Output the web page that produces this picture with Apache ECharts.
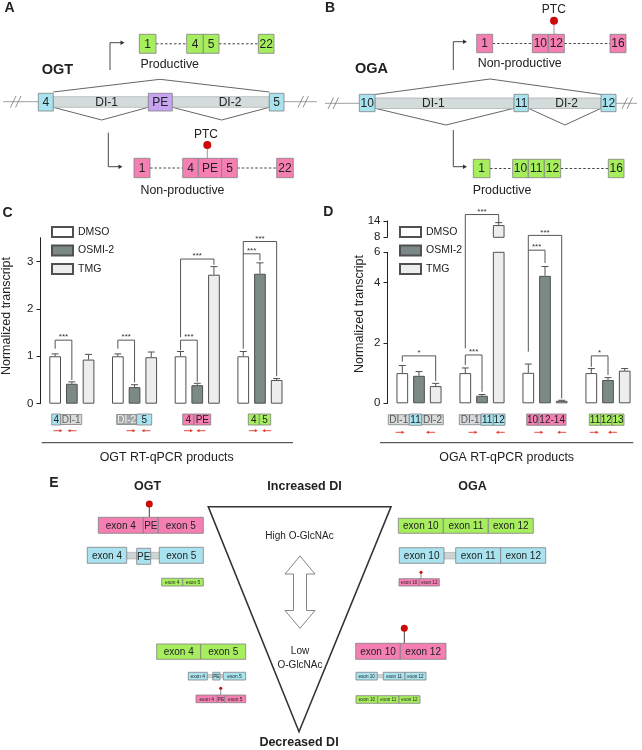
<!DOCTYPE html>
<html><head><meta charset="utf-8">
<script src="https://cdn.jsdelivr.net/npm/echarts@6/dist/echarts.min.js"></script>
<style>html,body{margin:0;padding:0;background:#fff}#c{width:642px;height:750px}</style>
</head><body><div id="c"></div>
<script>
const FONT = 'Liberation Sans, Arial, Helvetica, sans-serif';

// ---------- Panel C data (OGT RT-qPCR) ----------
const C_categories = ['4 | DI-1', 'DI-2 | 5', '4 | PE', '4 | 5'];
const C_DMSO     = [1.00, 1.00, 1.00, 1.00];
const C_DMSO_err = [0.05, 0.05, 0.10, 0.10];
const C_OSMI     = [0.42, 0.35, 0.39, 2.74];
const C_OSMI_err = [0.04, 0.05, 0.04, 0.23];
const C_TMG      = [0.93, 0.98, 2.72, 0.50];
const C_TMG_err  = [0.11, 0.11, 0.17, 0.03];
const C_yTicks = [0, 1, 2, 3];
const C_yTickLabels = ['0', '1', '2', '3'];
// significance brackets: [category, fromBar, toBar, top, leftEnd, rightEnd]
const C_sig = [[0,0,1,1.34,1.16,0.50],[1,0,1,1.34,1.16,0.45],[2,0,1,1.34,1.13,0.46],[2,0,2,3.05,1.40,2.93],[3,0,1,3.16,1.16,3.02],[3,0,2,3.42,3.16,0.58]];
const C_sigLabels = ['***','***','***','***','***','***'];

// ---------- Panel D data (OGA RT-qPCR) ----------
const D_categories = ['DI-1 | 11 | DI-2', 'DI-1 | 11 | 12', '10 | 12-14', '11 | 12 | 13'];
const D_DMSO     = [1.00, 1.00, 1.01, 1.00];
const D_DMSO_err = [0.25, 0.17, 0.29, 0.15];
const D_OSMI     = [0.91, 0.25, 4.22, 0.77];
const D_OSMI_err = [0.14, 0.04, 0.31, 0.08];
const D_TMG      = [0.57, 12.5, 0.08, 1.08];
const D_TMG_err  = [0.09, 0.90, 0.02, 0.07];
const D_lowTicks = [0, 2, 4, 5];
const D_lowTickLabels = ['0', '2', '4', '6'];
const D_highTicks = [8, 14];
const D_highTickLabels = ['8', '14'];
const D_sig = [[0,0,2,1.57,1.38,0.74],[1,0,1,1.60,1.27,0.38],[1,0,2,6.25,1.82,5.97],[2,0,1,5.07,1.71,4.65],[2,0,2,5.56,5.07,0.16],[3,0,1,1.57,1.21,0.94]];
const D_sigLabels = ['*','***','***','***','***','*'];

const seriesNames = ['DMSO', 'OSMI-2', 'TMG'];

// ---------- layout / style constants ----------
const BW = 11.7, GAP = 5, STEP = BW + GAP, CAP = 3.5;
const OFFS = [-STEP, 0, STEP];
const FILLS = ['#ffffff', '#7b8987', '#eceeee'];
const BAR_BORDER = '#505050';
const LOW_MAX = 5, HIGH_MIN = 8;
const BLUE = '#a8e3ef', PINK = '#f57fb3', GREEN = '#a6ee5e', PURPLE = '#c6a4f2', GRAYI = '#d3dbdb', RED = '#cc0a0a';
const BOX_STROKE = '#808080';

// ---------- graphic helpers ----------
const G = [];
const add = (...els) => els.forEach(e => Array.isArray(e) ? G.push(...e) : G.push(e));
function T(x, y, text, o = {}) {
  return { type: 'text', x, y, rotation: o.rot || 0, silent: true, z: o.z || 20,
    style: { text, fill: o.color || '#222', fontSize: o.size || 11, fontFamily: FONT,
      fontWeight: o.bold ? 'bold' : 'normal', align: o.align || 'center', verticalAlign: o.va || 'middle' } };
}
function R(x, y, w, h, fill, stroke, lw, z) {
  return { type: 'rect', silent: true, z: z || 10, shape: { x, y, width: w, height: h },
    style: { fill, stroke: stroke || BOX_STROKE, lineWidth: lw == null ? 0.8 : lw } };
}
function box(x, y, w, h, fill, label, size, o = {}) {
  return [R(x, y, w, h, fill, o.stroke, o.lw), T(x + w / 2, y + h / 2 + 0.5, label, { size, color: o.color })];
}
function L(x1, y1, x2, y2, stroke, lw, dash, z) {
  return { type: 'line', silent: true, z: z || 8, shape: { x1, y1, x2, y2 },
    style: { stroke, lineWidth: lw || 1, lineDash: dash || null } };
}
function PL(points, stroke, lw, z) {
  return { type: 'polyline', silent: true, z: z || 8, shape: { points }, style: { stroke, lineWidth: lw || 1, fill: null } };
}
function tri(x, y, dir, color, len = 4, hh = 2.2) {
  return { type: 'polygon', silent: true, z: 9, shape: { points: [[x, y], [x - dir * len, y - hh], [x - dir * len, y + hh]] }, style: { fill: color } };
}
function DOT(cx, cy, r, fill) {
  return { type: 'circle', silent: true, z: 12, shape: { cx, cy, r }, style: { fill } };
}
function primer(xc, y, dir) {
  const c = '#e23a2e';
  return [L(xc - 4.5 * dir, y, xc + 2 * dir, y, c, 0.9), tri(xc + 4.5 * dir, y, dir, c, 3, 1.6)];
}
const dash = [2.5, 2];

// ---------- Panel A ----------
add(T(9.5, 8.5, 'A', { size: 14, bold: true }));
add(T(41.7, 70, 'OGT', { size: 14.5, bold: true, align: 'left' }));
add(L(3, 101.7, 317, 101.7, '#a0a0a0', 1));
add(L(10.5, 107.5, 16, 96, '#777', 0.8), L(15.5, 107.5, 21, 96, '#777', 0.8), L(298, 107.5, 303.5, 96, '#777', 0.8), L(303, 107.5, 308.5, 96, '#777', 0.8));
add(R(53.3, 96.7, 95, 10.6, GRAYI, '#9aa3a3', 0.6), R(172.3, 96.7, 97, 10.6, GRAYI, '#9aa3a3', 0.6));
add(T(106.7, 102.4, 'DI-1', { size: 12 }), T(230, 102.4, 'DI-2', { size: 12 }));
add(box(38.3, 93.3, 15, 17.7, BLUE, '4', 12), box(148.3, 93.3, 24, 17.7, PURPLE, 'PE', 12), box(269.3, 93.3, 14.7, 17.7, BLUE, '5', 12));
add(PL([[53.3, 92], [160, 79.3], [269.3, 92]], '#555', 0.9));
add(PL([[53.3, 107.3], [101.7, 120], [148.3, 107.3]], '#555', 0.9));
add(PL([[172.3, 107.3], [221.7, 120], [269.3, 107.3]], '#555', 0.9));
add(PL([[110, 70], [110, 42.7], [121, 42.7]], '#333', 0.9), tri(124.5, 42.7, 1, '#333'));
add(PL([[108.3, 132.7], [108.3, 166.7], [119, 166.7]], '#333', 0.9), tri(122.5, 166.7, 1, '#333'));
add(L(156, 43.8, 186.7, 43.8, '#333', 0.9, dash), L(219, 43.8, 258.3, 43.8, '#333', 0.9, dash));
add(box(139.3, 34.3, 16.7, 19, GREEN, '1', 12), box(186.7, 34.3, 16.6, 19, GREEN, '4', 12), box(203.3, 34.3, 15.7, 19, GREEN, '5', 12), box(258.3, 34.3, 15.7, 19, GREEN, '22', 12));
add(T(169.7, 65, 'Productive', { size: 12.4 }));
add(L(150, 168, 182.7, 168, '#333', 0.9, dash), L(237.3, 168, 276.7, 168, '#333', 0.9, dash));
add(box(134, 158.3, 16, 19.4, PINK, '1', 12), box(182.7, 158.3, 15.6, 19.4, PINK, '4', 12), box(198.3, 158.3, 23.4, 19.4, PINK, 'PE', 12), box(221.7, 158.3, 15.6, 19.4, PINK, '5', 12), box(276.7, 158.3, 16.6, 19.4, PINK, '22', 12));
add(L(207.3, 145, 207.3, 158.3, '#999', 1, null, 9), DOT(207.3, 145, 4, RED), T(206, 135, 'PTC', { size: 12 }));
add(T(182.5, 191, 'Non-productive', { size: 12.4 }));

// ---------- Panel B ----------
add(T(330, 8.5, 'B', { size: 14, bold: true }));
add(T(355, 69, 'OGA', { size: 14.5, bold: true, align: 'left' }));
add(L(325, 103.3, 637, 103.3, '#a0a0a0', 1));
add(L(328, 109, 333.5, 97.5, '#777', 0.8), L(333, 109, 338.5, 97.5, '#777', 0.8), L(622, 109, 627.5, 97.5, '#777', 0.8), L(627, 109, 632.5, 97.5, '#777', 0.8));
add(R(375, 98, 139, 10.5, GRAYI, '#9aa3a3', 0.6), R(528.3, 98, 72.7, 10.5, GRAYI, '#9aa3a3', 0.6));
add(T(433.3, 103.6, 'DI-1', { size: 12 }), T(566.7, 103.6, 'DI-2', { size: 12 }));
add(box(359.3, 94.3, 15.7, 17.4, BLUE, '10', 12), box(514, 94.3, 14.3, 17.4, BLUE, '11', 12), box(601, 94.3, 15, 17.4, BLUE, '12', 12));
add(PL([[375, 94.5], [490, 79], [601, 94.5]], '#555', 0.9));
add(PL([[375, 108.3], [446, 125], [514, 108.3]], '#555', 0.9));
add(PL([[528.3, 108.3], [565, 125], [601, 108.3]], '#555', 0.9));
add(PL([[453.3, 70], [453.3, 41.7], [463.5, 41.7]], '#333', 0.9), tri(467, 41.7, 1, '#333'));
add(PL([[453.3, 130], [453.3, 166.7], [463.5, 166.7]], '#333', 0.9), tri(467, 166.7, 1, '#333'));
add(L(492.7, 43.5, 532.3, 43.5, '#333', 0.9, dash), L(564.3, 43.5, 610, 43.5, '#333', 0.9, dash));
add(box(476.7, 34.3, 16, 18.4, PINK, '1', 12), box(532.3, 34.3, 16, 18.4, PINK, '10', 12), box(548.3, 34.3, 16, 18.4, PINK, '12', 12), box(610, 34.3, 16, 18.4, PINK, '16', 12));
add(L(554, 20.7, 554, 34.3, '#999', 1, null, 9), DOT(554, 20.7, 4, RED), T(553.8, 10, 'PTC', { size: 12 }));
add(T(519.7, 63.3, 'Non-productive', { size: 12.4 }));
add(L(490, 168.5, 512.7, 168.5, '#333', 0.9, dash), L(560.7, 168.5, 608.3, 168.5, '#333', 0.9, dash));
add(box(473.3, 159.3, 16.7, 18.4, GREEN, '1', 12), box(512.7, 159.3, 15.6, 18.4, GREEN, '10', 12), box(528.3, 159.3, 16, 18.4, GREEN, '11', 12), box(544.3, 159.3, 16.4, 18.4, GREEN, '12', 12), box(608.3, 159.3, 15.7, 18.4, GREEN, '16', 12));
add(T(502, 190.7, 'Productive', { size: 12.4 }));

// ---------- Panels C / D annotations ----------
add(T(7.5, 213.3, 'C', { size: 14, bold: true }), T(328.3, 212.5, 'D', { size: 14, bold: true }));
add(T(6.7, 316, 'Normalized transcript', { size: 12.5, rot: Math.PI / 2 }));
add(T(360, 314, 'Normalized transcript', { size: 12.5, rot: Math.PI / 2 }));
const GD = '#d6dada', GDK = '#a3a7a7';
// C product labels
add(box(51.7, 414, 9, 11, BLUE, '4', 10), box(60.7, 414.5, 21, 10, GD, 'DI-1', 10, { color: '#666' }));
add(box(116.7, 414.5, 20, 10, GDK, 'DI-2', 10, { color: '#f2f2f2' }), box(136.7, 414, 15, 11, BLUE, '5', 10));
add(box(182.7, 414, 11.3, 11, PINK, '4', 10), box(194, 414, 16.7, 11, PINK, 'PE', 10));
add(box(248.3, 414, 11, 11, GREEN, '4', 10), box(259.3, 414, 11.4, 11, GREEN, '5', 10));
add(primer(58, 430.7, 1), primer(72, 430.7, -1), primer(131, 430.7, 1), primer(146, 430.7, -1), primer(188.5, 430.7, 1), primer(201, 430.7, -1), primer(253.3, 430.7, 1), primer(266.7, 430.7, -1));
add(L(41.7, 442.7, 293, 442.7, '#333', 1));
add(T(166.7, 457.3, 'OGT RT-qPCR products', { size: 12.4 }));
// D product labels
add(box(388.3, 414.7, 21, 10, GD, 'DI-1', 10, { color: '#555' }), box(409.3, 414, 12.4, 11.3, BLUE, '11', 10), box(421.7, 414.7, 21.6, 10, GD, 'DI-2', 10, { color: '#555' }));
add(box(459.3, 414.7, 21.7, 10, GD, 'DI-1', 10, { color: '#555' }), box(481, 414, 12.3, 11.3, BLUE, '11', 10), box(493.3, 414, 11.7, 11.3, BLUE, '12', 10));
add(box(526.7, 414, 11.6, 11.3, PINK, '10', 10), box(538.3, 414, 27.7, 11.3, PINK, '12-14', 10));
add(box(589.3, 414, 11.4, 11.3, GREEN, '11', 10), box(600.7, 414, 11.3, 11.3, GREEN, '12', 10), box(612, 414, 12, 11.3, GREEN, '13', 10));
add(primer(400, 432.3, 1), primer(430.5, 432.3, -1), primer(473, 432.3, 1), primer(500.3, 432.3, -1), primer(538.8, 432.3, 1), primer(561.7, 432.3, -1), primer(594.2, 432.3, 1), primer(612.5, 432.3, -1));
add(L(380, 442.7, 633.3, 442.7, '#333', 1));
add(T(506.7, 457.3, 'OGA RT-qPCR products', { size: 12.4 }));

// ---------- Panel E ----------
add(T(54, 483, 'E', { size: 14, bold: true }));
add(T(147.5, 487, 'OGT', { size: 12.5, bold: true }), T(304.5, 487, 'Increased DI', { size: 12.5, bold: true }), T(472.5, 487, 'OGA', { size: 12.5, bold: true }));
add({ type: 'polygon', silent: true, z: 6, shape: { points: [[208.3, 506.7], [391, 506.7], [299, 731.7]] }, style: { fill: null, stroke: '#333', lineWidth: 1.6 } });
add({ type: 'polygon', silent: true, z: 7, shape: { points: [[300, 556], [315, 574], [306.5, 574], [306.5, 610.5], [315, 610.5], [300, 628.3], [285, 610.5], [293.5, 610.5], [293.5, 574], [285, 574]] }, style: { fill: '#fff', stroke: '#666', lineWidth: 0.8 } });
add(T(299.5, 536, 'High O-GlcNAc', { size: 10 }), T(300, 651.7, 'Low', { size: 10 }), T(300, 665, 'O-GlcNAc', { size: 10 }));
add(T(299, 742.5, 'Decreased DI', { size: 12.5, bold: true }));
const CONN = '#cdd5d5';
// OGT side
add(L(149.3, 504, 149.3, 517.3, '#444', 1, null, 9), DOT(149.3, 504, 3.5, RED));
add(box(98.3, 517.3, 45, 16, PINK, 'exon 4', 10), box(143.3, 517.3, 15, 16, PINK, 'PE', 10), box(158.3, 517.3, 45, 16, PINK, 'exon 5', 10));
add(R(126.7, 552.3, 10, 6.7, CONN, '#999', 0.5), R(150.7, 552.3, 8.6, 6.7, CONN, '#999', 0.5));
add(box(87.3, 547.3, 39.4, 16, BLUE, 'exon 4', 10), box(136.7, 548.3, 14, 16, BLUE, 'PE', 10), box(159.3, 547.3, 44, 16, BLUE, 'exon 5', 10));
add(box(161.7, 578.3, 21, 7.7, GREEN, 'exon 4', 4.8), box(182.7, 578.3, 20.6, 7.7, GREEN, 'exon 5', 4.8));
add(box(156.7, 644, 44, 15.3, GREEN, 'exon 4', 10), box(200.7, 644, 45, 15.3, GREEN, 'exon 5', 10));
add(R(207.3, 674.5, 5.4, 3.4, CONN, '#999', 0.4), R(220, 674.5, 3.3, 3.4, CONN, '#999', 0.4));
add(box(188.3, 672.3, 19, 7.7, BLUE, 'exon 4', 4.8), box(212.7, 672.3, 7.3, 7.7, BLUE, 'PE', 4.8), box(223.3, 672.3, 22.4, 7.7, BLUE, 'exon 5', 4.8));
add(L(220.7, 688.3, 220.7, 695, '#444', 0.6, null, 9), DOT(220.7, 688.3, 1.5, RED));
add(box(196, 695, 21.3, 7.7, PINK, 'exon 4', 4.8), box(217.3, 695, 7.4, 7.7, PINK, 'PE', 4.8), box(224.7, 695, 21, 7.7, PINK, 'exon 5', 4.8));
// OGA side
add(box(398.3, 518.3, 45, 15, GREEN, 'exon 10', 10), box(443.3, 518.3, 45, 15, GREEN, 'exon 11', 10), box(488.3, 518.3, 45, 15, GREEN, 'exon 12', 10));
add(R(444, 552.5, 11.7, 6.5, CONN, '#999', 0.5));
add(box(399.3, 547.7, 44.7, 15.6, BLUE, 'exon 10', 10), box(455.7, 547.7, 45, 15.6, BLUE, 'exon 11', 10), box(500.7, 547.7, 45, 15.6, BLUE, 'exon 12', 10));
add(L(421, 572.3, 421, 578.7, '#444', 0.6, null, 9), DOT(421, 572.3, 1.5, RED));
add(box(399, 578.7, 20.3, 7.3, PINK, 'exon 10', 4.6), box(419.3, 578.7, 20, 7.3, PINK, 'exon 12', 4.6));
add(L(404.3, 628.3, 404.3, 643.3, '#444', 1, null, 9), DOT(404.3, 628.3, 3.5, RED));
add(box(355.7, 643.3, 44.6, 16, PINK, 'exon 10', 10), box(400.3, 643.3, 45.7, 16, PINK, 'exon 12', 10));
add(R(377.3, 674.5, 6, 3.4, CONN, '#999', 0.4));
add(box(356, 672.3, 21.3, 7.7, BLUE, 'exon 10', 4.6), box(383.3, 672.3, 21.7, 7.7, BLUE, 'exon 11', 4.6), box(405, 672.3, 21, 7.7, BLUE, 'exon 12', 4.6));
add(box(356, 695.7, 21.7, 7.6, GREEN, 'exon 10', 4.6), box(377.7, 695.7, 21.3, 7.6, GREEN, 'exon 11', 4.6), box(399, 695.7, 21, 7.6, GREEN, 'exon 12', 4.6));

// ---------- series builders ----------
function barSeries(k, data, gi) {
  return { type: 'bar', name: seriesNames[k], data, xAxisIndex: gi, yAxisIndex: gi, barWidth: BW, barGap: (GAP / BW * 100) + '%',
    itemStyle: { color: FILLS[k], borderColor: BAR_BORDER, borderWidth: 1 }, silent: true, z: 2 };
}
function errSeries(k, vals, errs, gi, keep) {
  const data = vals.map((v, i) => keep(v) ? [i, v, errs[i]] : null).filter(Boolean);
  return { type: 'custom', name: seriesNames[k] + ' error', xAxisIndex: gi, yAxisIndex: gi, data, encode: { x: 0, y: 1 }, z: 3, silent: true,
    renderItem: (p, api) => {
      const i = api.value(0), v = api.value(1), e = api.value(2);
      const a = api.coord([i, v]), b = api.coord([i, v + e]);
      const x = a[0] + OFFS[k];
      const st = { stroke: BAR_BORDER, lineWidth: 1 };
      return { type: 'group', children: [
        { type: 'line', shape: { x1: x, y1: a[1], x2: x, y2: b[1] }, style: st },
        { type: 'line', shape: { x1: x - CAP, y1: b[1], x2: x + CAP, y2: b[1] }, style: st }] };
    } };
}
function sigSeries(sig, labels, gi) {
  return { type: 'custom', name: 'significance', xAxisIndex: gi, yAxisIndex: gi, data: sig, encode: { x: 0, y: 3 }, z: 4, silent: true,
    renderItem: (p, api) => {
      const c = api.value(0), a = api.value(1), b = api.value(2);
      const base = api.coord([c, api.value(3)]);
      const xl = base[0] + OFFS[a], xr = base[0] + OFFS[b], yt = base[1];
      const yl = api.coord([c, api.value(4)])[1], yr = api.coord([c, api.value(5)])[1];
      return { type: 'group', children: [
        { type: 'polyline', shape: { points: [[xl, yl], [xl, yt], [xr, yt], [xr, yr]] }, style: { stroke: '#555', lineWidth: 1, fill: null } },
        { type: 'text', x: (xl + xr) / 2, y: yt - 3, style: { text: labels[p.dataIndex], fontSize: 8, fill: '#333', fontFamily: FONT, align: 'center', verticalAlign: 'middle' } }] };
    } };
}
function catAxis(gi, cats) {
  return { type: 'category', gridIndex: gi, data: cats, axisLine: { show: false }, axisTick: { show: false }, axisLabel: { show: false }, splitLine: { show: false } };
}
function valAxis(gi, min, max, ticks, labels) {
  return { type: 'value', gridIndex: gi, min, max,
    axisLine: { show: true, lineStyle: { color: '#222', width: 1 } },
    axisTick: { show: true, length: 4, customValues: ticks, lineStyle: { color: '#222' } },
    axisLabel: { customValues: ticks, formatter: v => { const k = ticks.indexOf(v); return k >= 0 ? labels[k] : ''; }, fontSize: 11.5, color: '#222', margin: 7, fontFamily: FONT },
    splitLine: { show: false } };
}
const inLow = v => v <= LOW_MAX, inHigh = v => v >= HIGH_MIN;
const hi = arr => arr.map(v => inHigh(v) ? v : '-');

const chart = echarts.init(document.getElementById('c'), null, { renderer: 'canvas' });
chart.setOption({
  animation: false,
  textStyle: { fontFamily: FONT },
  grid: [
    { left: 40.5, top: 237.7, width: 250.8, height: 166 },
    { left: 387.5, top: 252.3, width: 252, height: 151 },
    { left: 387.5, top: 221, width: 252, height: 16.3 }
  ],
  xAxis: [catAxis(0, C_categories), catAxis(1, D_categories), catAxis(2, D_categories)],
  yAxis: [valAxis(0, 0, 3.5, C_yTicks, C_yTickLabels), valAxis(1, 0, LOW_MAX, D_lowTicks, D_lowTickLabels), valAxis(2, HIGH_MIN, 14, D_highTicks, D_highTickLabels)],
  legend: [
    { data: seriesNames, orient: 'vertical', left: 51, top: 226, padding: 0, itemWidth: 21, itemHeight: 10, itemGap: 6.5, icon: 'rect', selectedMode: false, textStyle: { fontSize: 10.5, color: '#222', fontFamily: FONT } },
    { data: seriesNames, orient: 'vertical', left: 399, top: 226, padding: 0, itemWidth: 21, itemHeight: 10, itemGap: 6.5, icon: 'rect', selectedMode: false, textStyle: { fontSize: 10.5, color: '#222', fontFamily: FONT } }
  ],
  series: [
    barSeries(0, C_DMSO, 0), barSeries(1, C_OSMI, 0), barSeries(2, C_TMG, 0),
    errSeries(0, C_DMSO, C_DMSO_err, 0, () => true), errSeries(1, C_OSMI, C_OSMI_err, 0, () => true), errSeries(2, C_TMG, C_TMG_err, 0, () => true),
    sigSeries(C_sig, C_sigLabels, 0),
    barSeries(0, D_DMSO, 1), barSeries(1, D_OSMI, 1), barSeries(2, D_TMG, 1),
    errSeries(0, D_DMSO, D_DMSO_err, 1, inLow), errSeries(1, D_OSMI, D_OSMI_err, 1, inLow), errSeries(2, D_TMG, D_TMG_err, 1, inLow),
    sigSeries(D_sig, D_sigLabels, 1),
    barSeries(0, hi(D_DMSO), 2), barSeries(1, hi(D_OSMI), 2), barSeries(2, hi(D_TMG), 2),
    errSeries(0, D_DMSO, D_DMSO_err, 2, inHigh), errSeries(1, D_OSMI, D_OSMI_err, 2, inHigh), errSeries(2, D_TMG, D_TMG_err, 2, inHigh)
  ],
  graphic: { elements: G }
});
</script>
</body></html>
